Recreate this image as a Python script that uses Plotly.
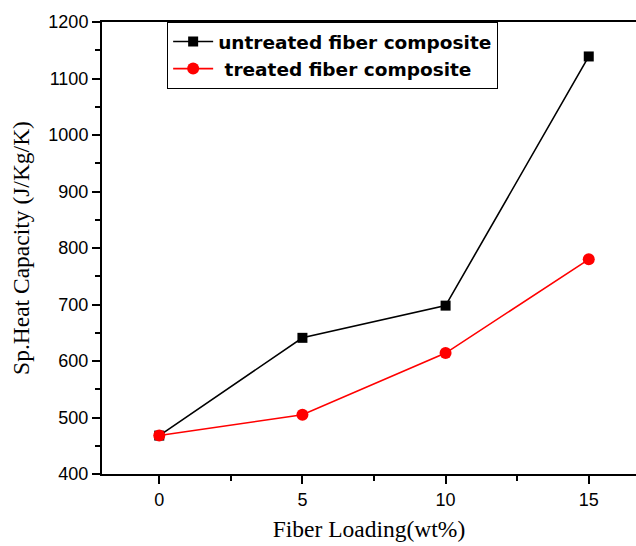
import plotly.graph_objects as go

fiber_loading = [0, 5, 10, 15]
untreated = [468, 641, 698, 1139]
treated = [468, 505, 614, 780]
series_names = ["untreated fiber composite", "\u00a0treated fiber composite"]

fig = go.Figure()
fig.add_trace(go.Scatter(
    x=fiber_loading, y=untreated, mode="lines+markers", name=series_names[0],
    line=dict(color="black", width=1.6),
    marker=dict(symbol="square", size=10, color="black"),
))
fig.add_trace(go.Scatter(
    x=fiber_loading, y=treated, mode="lines+markers", name=series_names[1],
    line=dict(color="#ff0000", width=1.6),
    marker=dict(symbol="circle", size=12, color="#ff0000"),
))

fig.update_layout(
    width=636, height=546,
    margin=dict(l=102, r=0, t=22, b=72),
    paper_bgcolor="white", plot_bgcolor="white",
    showlegend=True,
    legend=dict(
        x=0.122, y=1.0, xanchor="left", yanchor="top",
        bordercolor="black", borderwidth=1, bgcolor="white",
        font=dict(family="DejaVu Sans", size=18.5, color="black", weight="bold"),
        tracegroupgap=0, itemwidth=40,
    ),
    xaxis=dict(
        range=[-2, 16.65], tickvals=[0, 5, 10, 15],
        ticks="outside", ticklen=8, tickwidth=1.5, tickcolor="black",
        minor=dict(tickvals=[2.5, 7.5, 12.5], ticks="outside", ticklen=5, tickwidth=1.5, tickcolor="black"),
        showline=True, linecolor="black", linewidth=2, mirror=True,
        showgrid=False, zeroline=False,
        tickfont=dict(family="Liberation Sans, Arial", size=18, color="black"),
        title=dict(text="Fiber Loading(wt%)", standoff=12,
                   font=dict(family="Liberation Serif, Times New Roman", size=23.5, color="black")),
    ),
    yaxis=dict(
        range=[400, 1200], dtick=100,
        ticks="outside", ticklen=8, tickwidth=1.5, tickcolor="black",
        minor=dict(dtick=50, ticks="outside", ticklen=5, tickwidth=1.5, tickcolor="black"),
        showline=True, linecolor="black", linewidth=2, mirror=False,
        showgrid=False, zeroline=False,
        tickfont=dict(family="Liberation Sans, Arial", size=18, color="black"),
        title=dict(text="Sp.Heat Capacity (J/Kg/K)", standoff=12,
                   font=dict(family="Liberation Serif, Times New Roman", size=23.5, color="black")),
    ),
)

fig.write_html("out.html")
